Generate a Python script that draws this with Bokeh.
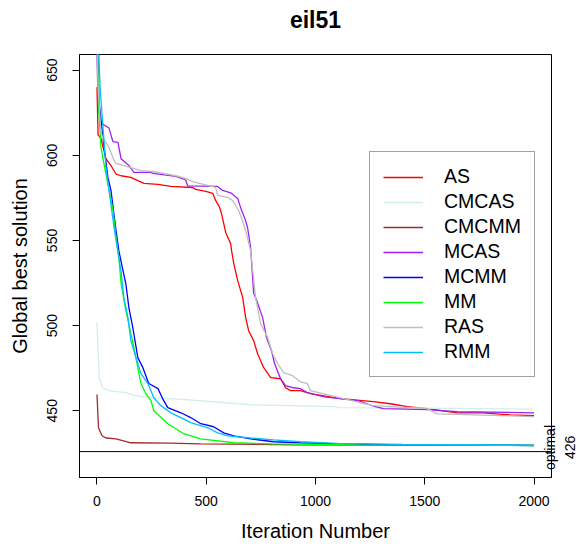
import math
from bokeh.plotting import figure
from bokeh.models import Range1d, FixedTicker, Legend, LegendItem, Span, LinearAxis
from bokeh.embed import file_html
from bokeh.resources import INLINE

# ---- data (iteration, global best) ----
as_iter = [0, 5, 18, 41, 64, 87, 110, 155, 215, 279, 338, 438, 452, 498, 530, 543, 557, 566, 575, 589,
           612, 616, 626, 644, 667, 680, 694, 717, 735, 763, 795, 840, 863, 886, 931, 977, 1114, 1265,
           1342, 1420, 1511, 1648, 1767, 1890, 2000]
as_val = [640, 612, 610, 598, 594, 589, 588, 587, 583.5, 582.9, 581.7, 581.1, 580, 578.8, 577.6, 573.5,
          570.5, 567.6, 563, 554.7, 548, 544, 536.4, 526.4, 516.4, 505, 497, 491.2, 483.5, 475.3, 469.4,
          468.8, 463.5, 461.8, 461.8, 460, 457.1, 455.3, 454.1, 452.4, 451.2, 448.8, 448.8, 447.6, 447.1]

cmcas_iter = [0, 10, 27, 55, 132, 178, 256, 406, 589, 712, 1091, 1105, 1500, 2000]
cmcas_val = [501.7, 469.4, 463.5, 461.8, 460.6, 458.8, 457.6, 456.5, 454.7, 453.5, 452.4, 451.8, 451.5, 451]

cmcmm_iter = [0, 7, 23, 41, 87, 155, 329, 475, 900, 2000]
cmcmm_val = [459.5, 440, 435.3, 434, 433.5, 431.2, 431, 430.6, 430, 429.7]

mcas_iter = [0, 5, 18, 55, 73, 96, 110, 146, 169, 247, 256, 361, 406, 415, 552, 575, 612, 644, 658, 680,
             689, 703, 717, 731, 758, 776, 799, 813, 840, 863, 900, 931, 963, 1040, 1195, 1270, 1310,
             1511, 1648, 2000]
mcas_val = [660, 630, 619, 616, 608, 607.6, 598, 594, 590, 590, 589.4, 587.6, 585.5, 582, 581.7, 579.4,
            578, 574.7, 569, 561.7, 557.6, 546, 519, 514.7, 504.7, 493, 485, 477.6, 468.8, 464.7, 463.5,
            463, 460.6, 458.2, 456, 452.5, 451.2, 450.6, 449.4, 448.8]

mcmm_iter = [0, 9, 27, 50, 64, 87, 100, 119, 132, 146, 164, 187, 210, 237, 279, 301, 324, 384, 429, 475,
             534, 580, 626, 703, 808, 931, 1100, 1400, 2000]
mcmm_val = [680, 632, 610.6, 587, 579.4, 556, 544, 532.3, 524.7, 510.6, 498.8, 481.2, 475.3, 466, 463,
            457, 451.8, 448.8, 446, 442.4, 440.6, 437, 435.3, 433.5, 431.8, 431.2, 430.5, 430, 429.6]

mm_iter = [0, 9, 18, 32, 73, 87, 100, 110, 132, 169, 201, 224, 247, 260, 324, 397, 475, 626, 800, 1200, 2000]
mm_val = [680, 625, 605, 595, 568, 552, 540, 525, 509, 487, 466, 460, 456, 450, 442.4, 436.5, 433.5,
          431.2, 430.5, 430, 429.6]

ras_iter = [0, 5, 18, 27, 41, 55, 64, 78, 87, 146, 201, 256, 361, 406, 438, 543, 552, 598, 621, 635, 648,
            662, 680, 703, 726, 749, 781, 804, 827, 854, 895, 931, 963, 977, 1114, 1205, 1265, 1511, 1557,
            1890, 2000]
ras_val = [665, 640, 614, 610, 607.6, 604.7, 601.7, 597, 595.3, 593, 591, 590.5, 588, 586.5, 584.5, 581.2,
           576.5, 575.3, 573.5, 570.5, 567.6, 563, 556, 544, 516.4, 501, 493, 483.5, 477.6, 472.4, 470.6,
           467, 465.9, 461.8, 457.6, 454.7, 453, 451.2, 448.2, 447, 446.5]

rmm_iter = [0, 14, 41, 78, 100, 110, 123, 142, 155, 187, 201, 233, 260, 292, 338, 384, 429, 507, 552, 598,
            703, 808, 931, 1100, 1400, 2000]
rmm_val = [690, 640, 593, 557.6, 540, 532, 516.4, 504.7, 491.2, 477.6, 471.8, 466, 457.6, 453, 448.8, 446,
           443, 440, 437, 435.3, 434, 432.9, 431.8, 430.8, 430.2, 429.8]

series_names = ["AS", "CMCAS", "CMCMM", "MCAS", "MCMM", "MM", "RAS", "RMM"]
series_iters = [as_iter, cmcas_iter, cmcmm_iter, mcas_iter, mcmm_iter, mm_iter, ras_iter, rmm_iter]
series_vals = [as_val, cmcas_val, cmcmm_val, mcas_val, mcmm_val, mm_val, ras_val, rmm_val]
series_colors = ["#FF0000", "#D1EEEE", "#A52A2A", "#A020F0", "#0000FF", "#00FF00", "#BEBEBE", "#00BFFF"]

x_ticks = [0, 500, 1000, 1500, 2000]
y_ticks = [450, 500, 550, 600, 650]
optimal_value = 426
title_text = "eil51"

FONT = "Liberation Sans"
Y_LO, Y_HI = 410.8, 659.2
FRAME_H = 546 - 54 - 69          # frame height in px
PX_PER_UNIT = FRAME_H / (Y_HI - Y_LO)

p = figure(width=584, height=546, output_backend="svg", toolbar_location=None,
           x_range=Range1d(-80, 2080), y_range=Range1d(Y_LO, Y_HI),
           x_axis_label="Iteration Number", y_axis_label="Global best solution")
p.min_border_left = 79
p.min_border_right = 33
p.min_border_top = 54
p.min_border_bottom = 69
p.grid.visible = False
p.outline_line_color = "black"
p.outline_line_width = 1
p.background_fill_color = "white"
p.border_fill_color = "white"

xax = p.below[0]
yax = p.left[0]
for ax in (xax, yax):
    ax.axis_line_color = "black"
    ax.major_tick_line_color = "black"
    ax.minor_tick_line_color = None
    ax.major_tick_out = 7
    ax.major_tick_in = 0
    ax.major_label_text_font = FONT
    ax.major_label_text_font_size = "14px"
    ax.major_label_text_color = "black"
    ax.axis_label_text_font = FONT
    ax.axis_label_text_font_size = "20px"
    ax.axis_label_text_font_style = "normal"
    ax.axis_label_text_color = "black"

xax.ticker = FixedTicker(ticks=x_ticks)
yax.ticker = FixedTicker(ticks=y_ticks)
yax.major_label_orientation = "vertical"
xax.major_label_standoff = 11
yax.major_label_standoff = 15
xax.axis_label_standoff = 11
yax.axis_label_standoff = 14

# title as an axis label above the frame (centred over the plot region, like R)
tax = LinearAxis(ticker=FixedTicker(ticks=[]), axis_label=title_text,
                 axis_line_color=None, major_tick_line_color=None, minor_tick_line_color=None,
                 major_tick_out=0, major_tick_in=0, major_label_standoff=0,
                 axis_label_standoff=22,
                 axis_label_text_font=FONT, axis_label_text_font_size="23px",
                 axis_label_text_font_style="bold", axis_label_text_color="black")
p.add_layout(tax, "above")

items = []
for name, xs, ys, c in zip(series_names, series_iters, series_vals, series_colors):
    r = p.line(xs, ys, line_color=c, line_width=1.3)
    items.append(LegendItem(label=name, renderers=[r]))

p.add_layout(Span(location=optimal_value, dimension="width", line_color="black", line_width=1))

# right-side annotation of the optimum ("optimal" / "426"), centred a little above the line.
# Rotated axis labels start at their tick, so the tick is moved down by half the text length.
for txt, so, text_len_px in (("optimal", -1, 45), (str(optimal_value), 1, 23)):
    tick_at = optimal_value - (text_len_px / 2 - 4) / PX_PER_UNIT
    rax = LinearAxis(ticker=FixedTicker(ticks=[tick_at]),
                     major_label_overrides={tick_at: txt},
                     major_label_orientation=math.pi / 2,
                     axis_line_color=None, major_tick_line_color=None, minor_tick_line_color=None,
                     major_tick_out=0, major_tick_in=0, major_label_standoff=so,
                     major_label_text_font=FONT, major_label_text_font_size="14px",
                     major_label_text_color="black")
    p.add_layout(rax, "right")

legend = Legend(items=items, location=(290, 100), orientation="vertical",
                glyph_width=40, glyph_height=20, label_height=20, spacing=2,
                padding=13, margin=0, label_standoff=21,
                label_text_font=FONT, label_text_font_size="19.5px", label_text_color="black",
                border_line_color="#444444", border_line_width=1.5,
                background_fill_color="white", background_fill_alpha=1.0)
p.add_layout(legend, "center")

open("out.html", "w").write(file_html(p, INLINE))
